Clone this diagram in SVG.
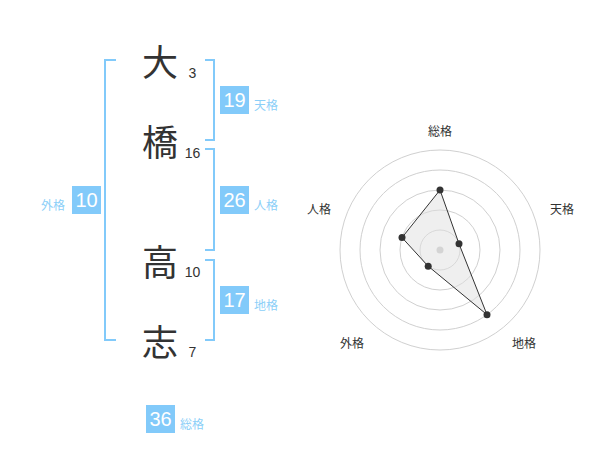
<svg xmlns="http://www.w3.org/2000/svg" width="600" height="470" viewBox="0 0 600 470">
<style>
.k{font-family:"Noto Sans CJK JP","Noto Sans CJK SC",sans-serif;font-size:36px;fill:#333;text-anchor:middle;dominant-baseline:central}
.n{font-family:"Liberation Sans",Arial,sans-serif;font-size:14px;fill:#333;text-anchor:middle}
.br{fill:none;stroke:#82cafa;stroke-width:2}
.box{fill:#82cafa}
.bn{font-family:"Liberation Sans",Arial,sans-serif;font-size:20px;fill:#fff;text-anchor:middle}
.bl{font-family:"Noto Sans CJK JP","Noto Sans CJK SC",sans-serif;font-size:12px;fill:#8ccff8;dominant-baseline:central}
.ring{fill:none;stroke:#d0d0d0;stroke-width:1}
.rl{font-family:"Noto Sans CJK JP","Noto Sans CJK SC",sans-serif;font-size:12px;fill:#333;text-anchor:middle;dominant-baseline:central}
.pt{fill:#333}
</style>
<rect width="600" height="470" fill="#fff"/>
<g id="connectors">
<path class="br" d="M116,60 H105 V340 H116"/>
<path class="br" d="M205,60 H214 V140 H205"/>
<path class="br" d="M205,149 H214 V250 H205"/>
<path class="br" d="M205,260 H214 V340 H205"/>
</g>
<g id="char1"><text class="k" x="160" y="60">大</text><text class="n" x="192.5" y="77.5">3</text></g>
<g id="char2"><text class="k" x="160" y="140">橋</text><text class="n" x="192.5" y="158">16</text></g>
<g id="char3"><text class="k" x="160" y="260">高</text><text class="n" x="192.5" y="277">10</text></g>
<g id="char4"><text class="k" x="160" y="340">志</text><text class="n" x="192.5" y="357">7</text></g>
<g id="tenkaku"><rect class="box" x="220" y="86" width="29" height="28"/><text class="bn" x="234.5" y="107">19</text><text class="bl" x="254" y="104">天格</text></g>
<g id="jinkaku"><rect class="box" x="220" y="186" width="29" height="28"/><text class="bn" x="234.5" y="207">26</text><text class="bl" x="254" y="204">人格</text></g>
<g id="chikaku"><rect class="box" x="220" y="286" width="29" height="28"/><text class="bn" x="234.5" y="307">17</text><text class="bl" x="254" y="304">地格</text></g>
<g id="gaikaku"><rect class="box" x="72" y="186" width="29" height="28"/><text class="bn" x="86.5" y="207">10</text><text class="bl" x="41" y="204">外格</text></g>
<g id="soukaku"><rect class="box" x="146" y="405" width="29" height="28"/><text class="bn" x="160.5" y="426">36</text><text class="bl" x="180" y="423">総格</text></g>
<g id="radar">
<circle class="ring" cx="440" cy="250" r="20"/>
<circle class="ring" cx="440" cy="250" r="40"/>
<circle class="ring" cx="440" cy="250" r="60"/>
<circle class="ring" cx="440" cy="250" r="80"/>
<circle class="ring" cx="440" cy="250" r="100"/>
<circle cx="440" cy="250" r="3.5" fill="#c8c8c8"/>
<polygon points="440,190 459,243.8 487,314.7 428.2,266.2 402,237.6" fill="#e0e0e0" fill-opacity="0.5" stroke="#333" stroke-width="1"/>
<circle class="pt" cx="440" cy="190" r="3.5"/>
<circle class="pt" cx="459" cy="243.8" r="3.5"/>
<circle class="pt" cx="487" cy="314.7" r="3.5"/>
<circle class="pt" cx="428.2" cy="266.2" r="3.5"/>
<circle class="pt" cx="402" cy="237.6" r="3.5"/>
<text class="rl" x="440" y="130">総格</text>
<text class="rl" x="562" y="208">天格</text>
<text class="rl" x="319" y="208">人格</text>
<text class="rl" x="352" y="342">外格</text>
<text class="rl" x="524" y="342">地格</text>
</g>
</svg>
